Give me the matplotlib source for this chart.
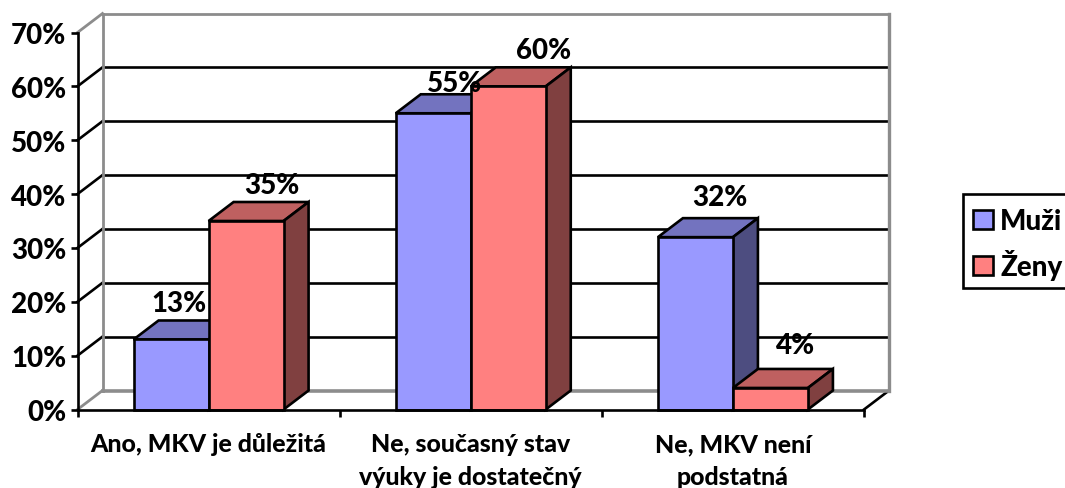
import matplotlib
matplotlib.use("Agg")
import matplotlib.pyplot as plt
from matplotlib.patches import Polygon, Patch, Rectangle

plt.rcParams['font.family'] = ['Lato', 'DejaVu Sans']
plt.rcParams['font.weight'] = 900

categories = ["Ano, MKV je důležitá", "Ne, současný stav\nvýuky je dostatečný", "Ne, MKV není\npodstatná"]
muzi = [13, 55, 32]
zeny = [35, 60, 4]
series_names = ["Muži", "Ženy"]
y_ticks = [0, 10, 20, 30, 40, 50, 60, 70]
y_labels = ["0%", "10%", "20%", "30%", "40%", "50%", "60%", "70%"]

W, H = 1065, 489
L, R, T, B = 77.5, 864, 33.5, 410.5
fig = plt.figure(figsize=(W / 100, H / 100), dpi=100)
ax = fig.add_axes([L / W, 1 - B / H, (R - L) / W, (B - T) / H])
ax.set_xlim(0, 3)
ax.set_ylim(0, 70)

dx = 25 / ((R - L) / 3)
dy = 19 / ((B - T) / 70)
bw = 75 / ((R - L) / 3)
BLK, GRAY = "#000000", "#8c8c8c"
LW = 1.9


def line(xs, ys, c=BLK, lw=LW, z=1):
    ax.plot(xs, ys, color=c, lw=lw, clip_on=False, zorder=z, solid_capstyle='projecting')


# walls and grid
for v in y_ticks[1:-1]:
    line([0, dx], [v, v + dy])
    line([dx, 3 + dx], [v + dy, v + dy])
line([3, 3 + dx], [0, dy], z=1)
line([0, dx], [0, dy], GRAY, 2.0)
line([0, dx], [70, 70 + dy], GRAY, 2.0)
line([dx, 3 + dx], [dy, dy], GRAY, 2.6)
line([dx, 3 + dx], [70 + dy, 70 + dy], GRAY, 2.0)
line([dx, dx], [dy, 70 + dy], GRAY, 2.0)
line([3 + dx, 3 + dx], [dy, 70 + dy], GRAY, 2.4)


def bar(x0, v, front, top, side, z):
    x1 = x0 + bw
    kw = dict(edgecolor=BLK, lw=LW, clip_on=False, zorder=z, joinstyle='miter')
    ax.add_patch(Polygon([(x0, v), (x0 + dx, v + dy), (x1 + dx, v + dy), (x1, v)], facecolor=top, **kw))
    ax.add_patch(Polygon([(x1, 0), (x1 + dx, dy), (x1 + dx, v + dy), (x1, v)], facecolor=side, **kw))
    ax.add_patch(Polygon([(x0, 0), (x1, 0), (x1, v), (x0, v)], facecolor=front, **kw))


for i in range(len(categories)):
    c = i + 0.5
    bar(c - bw, muzi[i], "#9999ff", "#7373bf", "#4d4d80", 3 + i * 2)
    bar(c, zeny[i], "#ff8080", "#bf6060", "#804040", 4 + i * 2)

# value labels: pixel offsets from the front-top centre of each bar
off_m = [(8, 36), (21, 30), (24, 40)]
off_f = [(26, 36), (35, 36), (25, 43)]
for i in range(len(categories)):
    c = i + 0.5
    ax.annotate(f"{muzi[i]}%", (c - bw / 2, muzi[i]), xytext=off_m[i], textcoords='offset pixels',
                ha='center', va='center', fontsize=20, fontweight=900, zorder=20, annotation_clip=False)
    ax.annotate(f"{zeny[i]}%", (c + bw / 2, zeny[i]), xytext=off_f[i], textcoords='offset pixels',
                ha='center', va='center', fontsize=20, fontweight=900, zorder=20, annotation_clip=False)

# axes
for s in ('top', 'right'):
    ax.spines[s].set_visible(False)
for s in ('left', 'bottom'):
    ax.spines[s].set_linewidth(LW)
    ax.spines[s].set_zorder(15)
ax.set_yticks(y_ticks, y_labels, fontsize=20, fontweight=900)
ax.tick_params(axis='y', length=5, width=LW, pad=3)
ax.set_xticks([0, 1, 2, 3], ["", "", "", ""])
ax.tick_params(axis='x', which='major', length=5, width=LW)
ax.set_xticks([0.5, 1.5, 2.5], categories, minor=True, fontsize=17.9, fontweight=900, linespacing=1.52)
ax.tick_params(axis='x', which='minor', length=0, pad=16.5)

# legend
fig.add_artist(Rectangle((962.5 / W, 1 - 288.5 / H), 110 / W, 93.5 / H, transform=fig.transFigure,
                         facecolor='white', edgecolor=BLK, lw=LW, zorder=5))
handles = [Patch(facecolor="#9999ff", edgecolor=BLK, lw=LW), Patch(facecolor="#ff8080", edgecolor=BLK, lw=LW)]
leg = fig.legend(handles, series_names, loc='upper left', bbox_to_anchor=(962 / W, 1 - 198 / H),
                 borderaxespad=0, frameon=False,
                 prop=dict(family=['Lato', 'DejaVu Sans'], weight=900, size=20),
                 handlelength=0.7, handleheight=0.7, handletextpad=0.28, labelspacing=0.55, borderpad=0.4)
leg.set_zorder(6)

fig.savefig("out.png", dpi=100)
